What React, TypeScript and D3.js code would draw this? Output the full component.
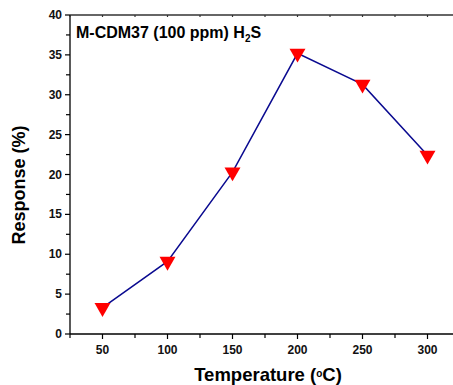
import { useEffect, useRef } from 'react'
import * as d3 from 'd3'

// data
const temps = [50, 100, 150, 200, 250, 300]
const response = [3.3, 9.1, 20.3, 35.2, 31.3, 22.4]
const xTicks = [50, 100, 150, 200, 250, 300]
const yTicks = [0, 5, 10, 15, 20, 25, 30, 35, 40]

const W = 453
const H = 385

export default function App() {
  const svgRef = useRef<SVGSVGElement | null>(null)

  useEffect(() => {
    document.body.style.margin = '0'
    const svg = d3.select(svgRef.current)
    svg.selectAll('*').remove()

    const font = 'Arial, "Liberation Sans", sans-serif'
    const pad = { l: 70, t: 15, b: 51 }
    const x = d3.scaleLinear().domain([25, 325]).range([pad.l, 460])
    const y = d3.scaleLinear().domain([0, 40]).range([H - pad.b, pad.t])

    const g = svg.append('g')

    // frame lines (right side runs off the picture)
    g.append('line').attr('x1', x(25)).attr('x2', x(325)).attr('y1', y(0)).attr('y2', y(0)).attr('stroke', '#000').attr('stroke-width', 1.3)
    g.append('line').attr('x1', x(25)).attr('x2', x(325)).attr('y1', y(40)).attr('y2', y(40)).attr('stroke', '#333').attr('stroke-width', 1.3)
    g.append('line').attr('x1', x(25)).attr('x2', x(25)).attr('y1', y(0)).attr('y2', y(40)).attr('stroke', '#000').attr('stroke-width', 1.3)

    // x ticks: major every 50, minor every 25
    d3.range(25, 326, 25).forEach(v => {
      const major = xTicks.includes(v)
      g.append('line').attr('x1', x(v)).attr('x2', x(v)).attr('y1', y(0)).attr('y2', y(0) + (major ? 5 : 4)).attr('stroke', '#000').attr('stroke-width', 1.2)
      g.append('line').attr('x1', x(v)).attr('x2', x(v)).attr('y1', y(40)).attr('y2', y(40) + 2).attr('stroke', '#333').attr('stroke-width', 1.2)
    })
    xTicks.forEach(v => {
      g.append('text').attr('x', x(v)).attr('y', y(0) + 20).attr('text-anchor', 'middle')
        .attr('font-family', font).attr('font-weight', 'bold').attr('font-size', 12).attr('fill', '#111').text(v)
    })

    // y ticks: major every 5, minor every 2.5
    d3.range(0, 40.1, 2.5).forEach(v => {
      const major = yTicks.includes(v)
      g.append('line').attr('x1', x(25)).attr('x2', x(25) - (major ? 5 : 4)).attr('y1', y(v)).attr('y2', y(v)).attr('stroke', '#000').attr('stroke-width', 1.2)
    })
    yTicks.forEach(v => {
      g.append('text').attr('x', x(25) - 8).attr('y', y(v) + 4).attr('text-anchor', 'end')
        .attr('font-family', font).attr('font-weight', 'bold').attr('font-size', 12).attr('fill', '#111').text(v)
    })

    // line + markers
    const pts = temps.map((t, i) => [t, response[i]] as [number, number])
    const line = d3.line<[number, number]>().x(d => x(d[0])).y(d => y(d[1]))
    g.append('path').datum(pts).attr('d', line).attr('fill', 'none').attr('stroke', '#0a0a90').attr('stroke-width', 1.5)

    const tri = d3.symbol().type(d3.symbolTriangle).size(110)
    g.selectAll('path.m').data(pts).enter().append('path').attr('class', 'm')
      .attr('d', tri)
      .attr('transform', d => `translate(${x(d[0])},${y(d[1])}) rotate(180)`)
      .attr('fill', '#ff0000')

    // title inside the plot
    const title = g.append('text').attr('x', x(25) + 6).attr('y', y(40) + 23)
      .attr('font-family', font).attr('font-weight', 'bold').attr('font-size', 16).attr('fill', '#000')
    title.append('tspan').text('M-CDM37 (100 ppm) H')
    title.append('tspan').attr('font-size', 10).attr('dy', 4).text('2')
    title.append('tspan').attr('dy', -4).text('S')

    // axis titles
    const xt = g.append('text').attr('x', 268).attr('y', H - 4).attr('text-anchor', 'middle')
      .attr('font-family', font).attr('font-weight', 'bold').attr('font-size', 18.5).attr('fill', '#000')
    xt.append('tspan').text('Temperature (')
    xt.append('tspan').attr('font-size', 10).attr('dy', -4).text('o')
    xt.append('tspan').attr('dy', 4).text('C)')
    g.append('text').attr('transform', 'translate(25,185) rotate(-90)').attr('text-anchor', 'middle')
      .attr('font-family', font).attr('font-weight', 'bold').attr('font-size', 18).attr('fill', '#000')
      .text('Response (%)')
  }, [])

  return (
    <svg ref={svgRef} width={W} height={H} style={{ display: 'block', background: '#fff', overflow: 'hidden' }} />
  )
}
